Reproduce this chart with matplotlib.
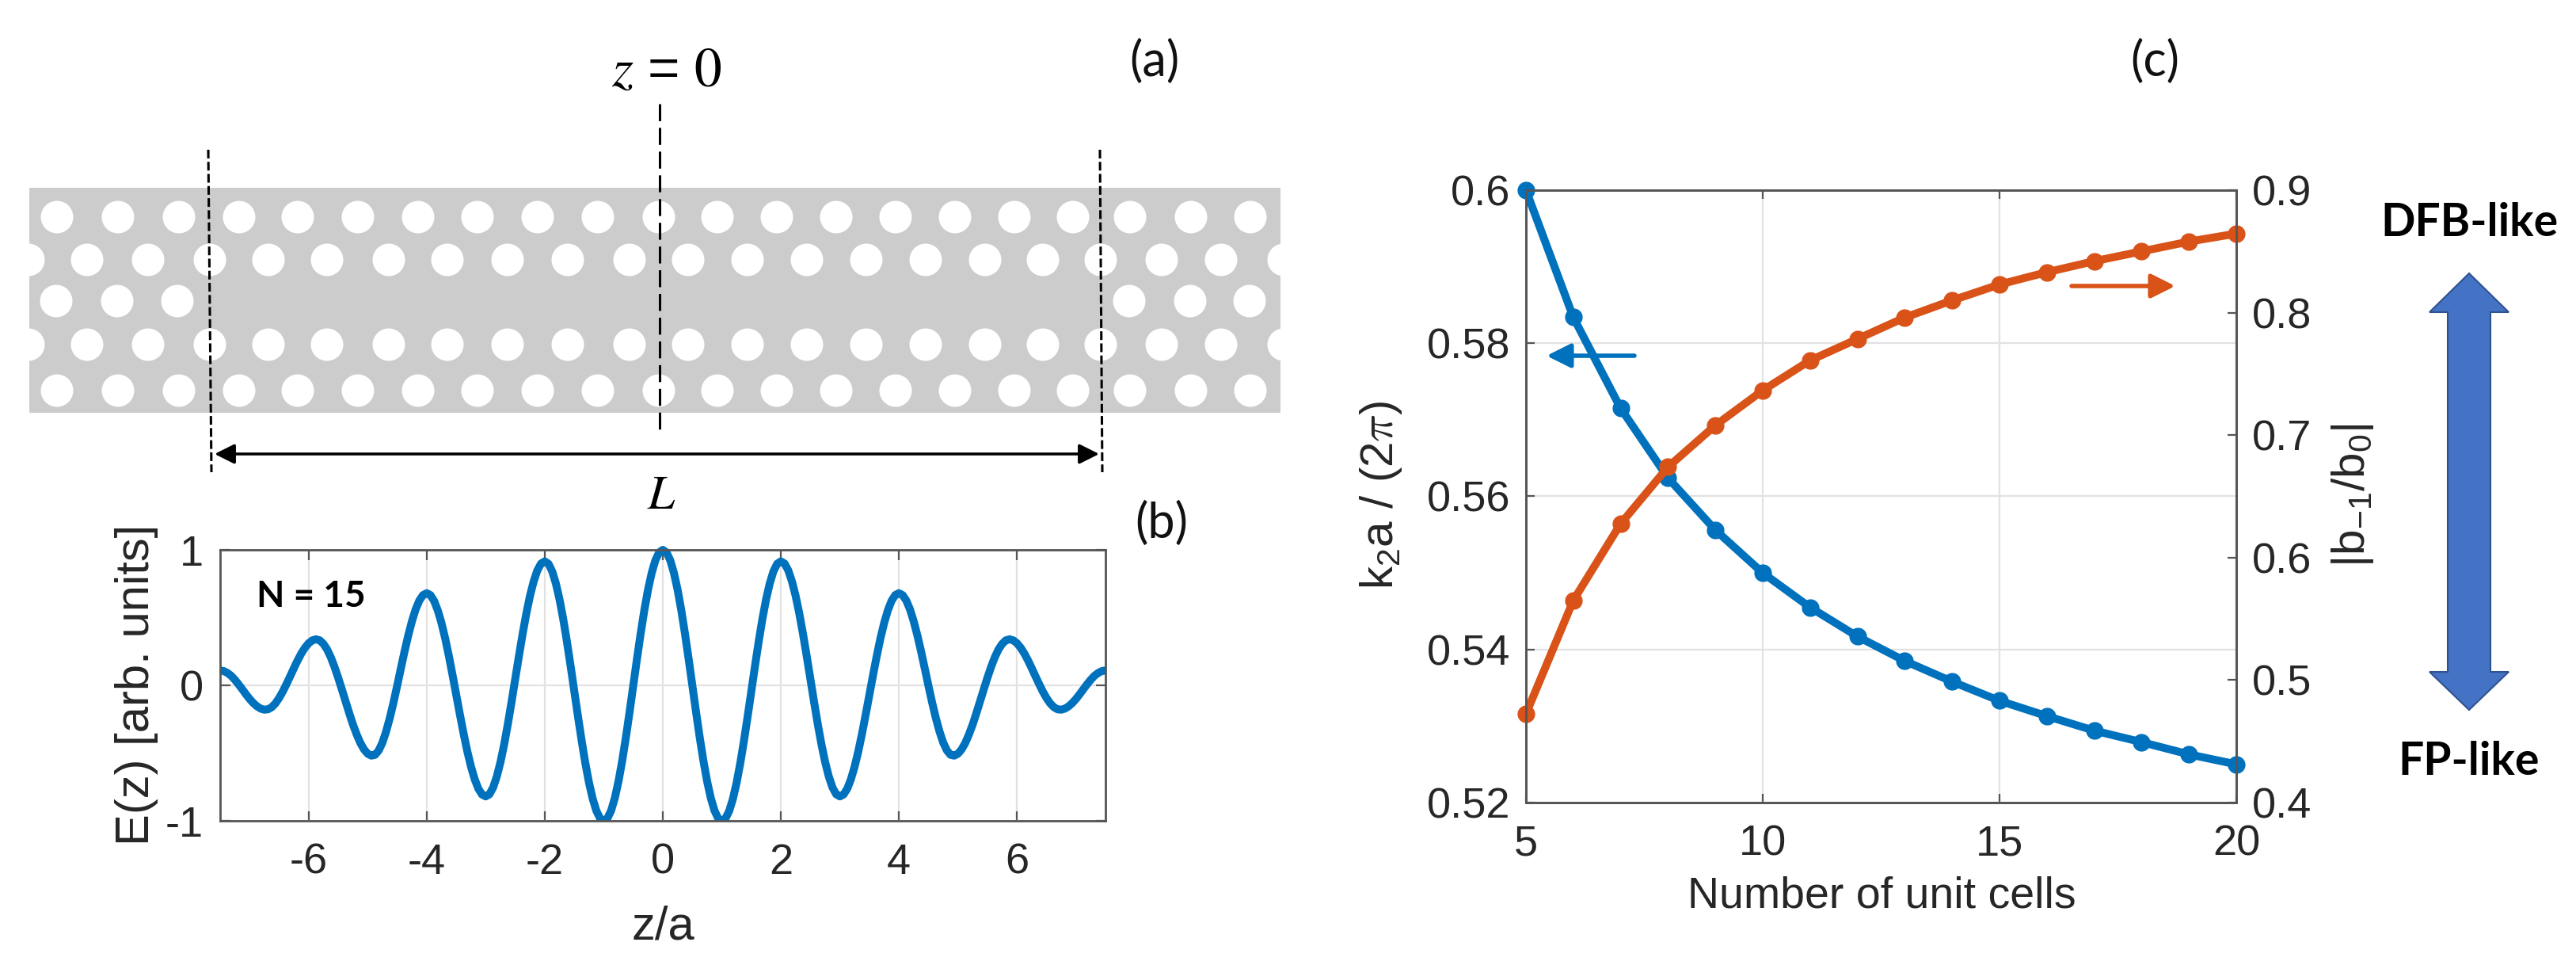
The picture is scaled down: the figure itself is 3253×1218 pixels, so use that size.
import numpy as np
import matplotlib
matplotlib.use('Agg')
import matplotlib.pyplot as plt
from matplotlib.patches import Circle, Rectangle, Polygon

plt.rcParams['font.family'] = ['Liberation Sans', 'DejaVu Sans']
plt.rcParams['mathtext.default'] = 'regular'
plt.rcParams['path.simplify'] = False

W, H = 3253, 1218
BLUE = '#0072BD'
ORANGE = '#D95319'

# panel (a), hole centres along each row of the crystal
row_outer = [72, 149, 226, 302, 376, 452, 528, 603, 679, 755, 832, 906, 981,
             1056, 1131, 1206, 1281, 1355, 1427, 1504, 1579]
row_inner = [36, 110, 187, 265, 339, 413, 491, 565, 641, 717, 795, 869, 944,
             1019, 1094, 1169, 1244, 1317, 1390, 1467, 1542, 1621]
row_middle = [71, 148, 224, 1426, 1503, 1578]
row_y = [274, 328, 380, 435, 493]

# panel (b), field profile, read at steps of 1/16 from z=0 out to z=7.5
E_half = [1.0, .981, .924, .831, .707, .556, .383, .195, 0, -.195, -.383, -.556, -.707, -.831, -.924, -.981,
          -1.0, -.982, -.927, -.838, -.720, -.575, -.409, -.229, -.043, .144, .324, .490, .635, .753, .842, .897,
          .915, .899, .849, .768, .661, .530, .380, .217, .048, -.122, -.285, -.435, -.566, -.673, -.754, -.804,
          -.82, -.806, -.763, -.693, -.600, -.487, -.357, -.216, -.07, .076, .217, .347, .460, .553, .623, .666,
          .68, .666, .626, .561, .474, .369, .252, .126, -.002, -.126, -.240, -.340, -.422, -.480, -.513, -.519,
          -.505, -.473, -.425, -.362, -.289, -.206, -.118, -.030, .056, .136, .207, .265, .306, .332, .34, .332,
          .311, .278, .235, .184, .127, .068, .010, -.045, -.093, -.133, -.161, -.177, -.18,
          -.172, -.155, -.131, -.101, -.066, -.029, .007, .041, .070, .091, .105, .11]
z_half = np.arange(len(E_half)) / 16
z_ticks = [-6, -4, -2, 0, 2, 4, 6]

# panel (c)
n_cells = [5, 6, 7, 8, 9, 10, 11, 12, 13, 14, 15, 16, 17, 18, 19, 20]
k2a = [.6, .5834, .5715, .5624, .5556, .55, .5455, .5417, .5385, .5358,
       .5333, .5313, .5294, .5279, .5263, .525]
b_ratio = [.4724, .565, .6277, .674, .708, .7365, .761, .7785, .796, .81,
           .823, .833, .842, .85, .858, .8645]


def axes_px(fig, left, top, right, bottom):
    return fig.add_axes([left / W, 1 - bottom / H, (right - left) / W, (bottom - top) / H])


def style_axes(ax):
    for s in ax.spines.values():
        s.set_color('#555555')
        s.set_linewidth(2)
    ax.grid(True, color='#e2e2e2', linewidth=1.6)
    ax.set_axisbelow(True)


fig = plt.figure(figsize=(W / 100, H / 100), dpi=100)

# panel (b)
ax_b = axes_px(fig, 278, 694, 1396, 1036)
z = np.concatenate([-z_half[:0:-1], z_half])
E = np.concatenate([E_half[:0:-1], E_half])
line_b, = ax_b.plot(z, E, color=BLUE, linewidth=7.2, solid_joinstyle='round')
line_b.set_clip_path(Rectangle((0, 0), 1, 1.03, transform=ax_b.transAxes))
ax_b.set_xlim(-7.5, 7.5)
ax_b.set_ylim(-1, 1)
ax_b.set_xticks(z_ticks)
ax_b.set_xticklabels([str(t) for t in z_ticks])
ax_b.set_yticks([-1, 0, 1])
ax_b.set_yticklabels(['-1', '0', '1'])
style_axes(ax_b)
ax_b.tick_params(axis='both', direction='in', length=9, width=1.6, color='#555555',
                 labelsize=39, labelcolor='#262626', top=True, right=True)
ax_b.tick_params(axis='x', pad=20)
ax_b.tick_params(axis='y', pad=15)
ax_b.set_xlabel('z/a', fontsize=43, color='#262626', va='center')
ax_b.xaxis.set_label_coords(0.5, (1036 - 1170) / 342)
ax_b.set_ylabel('E(z) [arb. units]', fontsize=43, color='#262626', va='center')
ax_b.yaxis.set_label_coords((172 - 278) / 1118, (1036 - 864) / 342)

# panel (c)
ax_c = axes_px(fig, 1927, 240, 2824, 1013)
ax_c.plot(n_cells, k2a, color=BLUE, linewidth=7.2, marker='o', markersize=15, clip_on=False)
ax_c.set_xlim(5, 20)
ax_c.set_ylim(.52, .6)
ax_c.set_xticks([5, 10, 15, 20])
ax_c.set_yticks([.52, .54, .56, .58, .6])
ax_c.set_yticklabels(['0.52', '0.54', '0.56', '0.58', '0.6'])
style_axes(ax_c)
ax_c.tick_params(axis='both', direction='in', length=8, width=1.6, color='#555555',
                 labelsize=39, labelcolor='#262626', top=True)
ax_c.tick_params(axis='x', pad=20)
ax_c.tick_params(axis='y', pad=14)
ax_c.set_xlabel('Number of unit cells', fontsize=40, color='#262626', va='center')
ax_c.xaxis.set_label_coords((2376 - 1927) / 897, (1013 - 1132) / 773)
ax_c.set_ylabel(r'k$_2$a / (2$\mathit{\pi}$)', fontsize=42, color='#262626', va='center', math_fontfamily='cm')
ax_c.yaxis.set_label_coords((1744 - 1927) / 897, (1013 - 625) / 773)

ax_r = ax_c.twinx()
ax_r.plot(n_cells, b_ratio, color=ORANGE, linewidth=7.2, marker='o', markersize=15, clip_on=False)
ax_r.set_ylim(.4, .9)
ax_r.set_yticks([.4, .5, .6, .7, .8, .9])
for s in ax_r.spines.values():
    s.set_color('#555555')
    s.set_linewidth(2)
ax_r.tick_params(axis='y', direction='in', length=8, width=1.6, color='#555555',
                 labelsize=39, labelcolor='#262626', pad=14)
ax_r.set_ylabel(r'|b$_{-1}$/b$_0$|', fontsize=42, color='#262626', va='center')
ax_r.yaxis.set_label_coords((2971 - 1927) / 897, (1013 - 625) / 773)

# overlay in image pixels for the schematic and the annotations
ov = fig.add_axes([0, 0, 1, 1], facecolor='none')
ov.set_xlim(0, W)
ov.set_ylim(H, 0)
ov.axis('off')

# panel (a)
slab = Rectangle((37, 237), 1580, 284, facecolor='#cdcccd', edgecolor='none')
ov.add_patch(slab)
for y, row in zip(row_y, [row_outer, row_inner, row_middle, row_inner, row_outer]):
    for x in row:
        hole = Circle((x, y), 20.5, facecolor='white', edgecolor='none')
        ov.add_patch(hole)
        hole.set_clip_path(slab)

ov.plot([263, 267], [189, 596], color='black', linewidth=2.2, dashes=(3.6, 1.4))
ov.plot([1389, 1392], [189, 596], color='black', linewidth=2.2, dashes=(3.6, 1.4))
ov.plot([833, 833], [131, 549], color='black', linewidth=2.2, dashes=(7, 2.8))
ov.annotate('', xy=(271, 573), xytext=(1388, 573),
            arrowprops=dict(arrowstyle='<|-|>', color='black', linewidth=2.6,
                            mutation_scale=38, shrinkA=0, shrinkB=0))

ov.text(842, 91, r'$\mathit{z}\,=\,\mathrm{0}$', fontsize=50, ha='center', va='center', math_fontfamily='stix')
ov.text(835, 626, r'$\mathit{L}$', fontsize=44, ha='center', va='center', math_fontfamily='stix')

panel_font = dict(family='Lato', fontsize=44, color='#111111', ha='center', va='center')
ov.text(1458, 78, '(a)', **panel_font)
ov.text(1467, 661, '(b)', **panel_font)
ov.text(2721, 78, '(c)', **panel_font)
ov.text(393, 753, 'N = 15', family='Lato', fontweight='bold', fontsize=33, ha='center', va='center')

# direction arrows for panel (c)
ov.annotate('', xy=(1953, 449), xytext=(2064, 449),
            arrowprops=dict(arrowstyle='-|>', color=BLUE, linewidth=4,
                            mutation_scale=46, shrinkA=0, shrinkB=0))
ov.annotate('', xy=(2747, 361), xytext=(2616, 361),
            arrowprops=dict(arrowstyle='-|>', color=ORANGE, linewidth=4,
                            mutation_scale=46, shrinkA=0, shrinkB=0))

# DFB / FP double arrow
ov.add_patch(Polygon([(3118, 345), (3168, 394), (3145, 394), (3145, 848), (3168, 848),
                      (3118, 896), (3068, 848), (3091, 848), (3091, 394), (3068, 394)],
                     closed=True, facecolor='#4472C4', edgecolor='#2F528F', linewidth=1.5))
ov.text(3118, 282, 'DFB-like', family='Lato', fontweight='bold', fontsize=41, ha='center', va='center')
ov.text(3118, 961, 'FP-like', family='Lato', fontweight='bold', fontsize=41, ha='center', va='center')

fig.savefig('out.png', dpi=100)
